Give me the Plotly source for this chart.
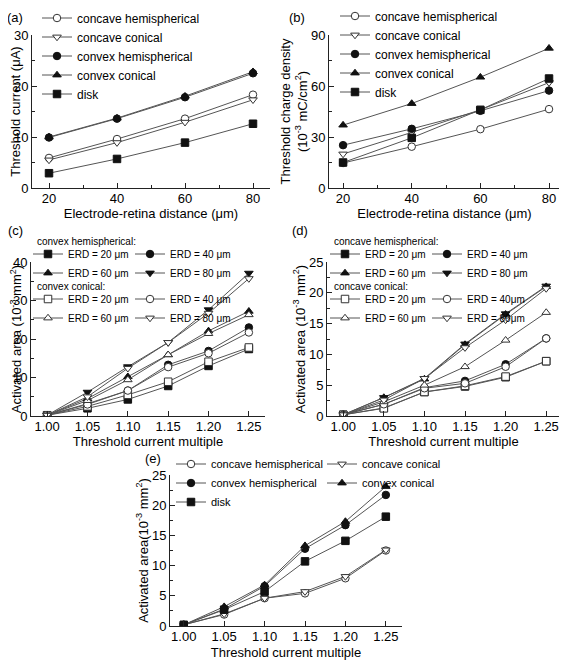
import plotly.graph_objects as go

# ---------------- data ----------------
erd = [20, 40, 60, 80]
multiple = [1.00, 1.05, 1.10, 1.15, 1.20, 1.25]

# (a) threshold current (uA)
a_concave_hemi = [5.9, 9.6, 13.6, 18.3]
a_concave_con = [5.5, 8.9, 12.9, 17.3]
a_convex_hemi = [9.9, 13.6, 17.8, 22.5]
a_convex_con = [10.0, 13.7, 18.0, 22.8]
a_disk = [2.9, 5.7, 8.9, 12.6]

# (b) threshold charge density (1e-3 mC/cm2)
b_concave_hemi = [14.7, 24.3, 34.6, 46.4]
b_concave_con = [20.0, 32.7, 46.0, 62.0]
b_convex_hemi = [25.2, 34.8, 45.4, 57.3]
b_convex_con = [37.0, 49.7, 65.2, 82.2]
b_disk = [15.0, 29.5, 46.0, 64.4]

# (c) activated area, convex electrodes (1e-3 mm2)
c_hemi_20 = [0.2, 2.0, 4.3, 7.8, 13.0, 17.4]
c_hemi_40 = [0.2, 3.2, 6.6, 13.3, 16.9, 23.0]
c_hemi_60 = [0.2, 4.5, 10.2, 15.9, 22.1, 27.2]
c_hemi_80 = [0.2, 6.2, 12.8, 19.1, 27.6, 37.1]
c_con_20 = [0.2, 2.5, 5.5, 8.9, 14.1, 17.8]
c_con_40 = [0.2, 3.0, 6.6, 12.7, 16.3, 21.7]
c_con_60 = [0.2, 4.0, 9.4, 15.9, 21.4, 26.3]
c_con_80 = [0.2, 5.0, 12.4, 19.1, 26.7, 35.7]

# (d) activated area, concave electrodes (1e-3 mm2)
d_hemi_20 = [0.2, 1.3, 3.9, 4.8, 6.3, 8.9]
d_hemi_40 = [0.2, 1.9, 4.6, 5.7, 8.4, 12.6]
d_hemi_60 = [0.2, 3.0, 6.0, 11.6, 16.5, 21.0]
d_hemi_80 = [0.2, 3.0, 6.1, 11.7, 16.6, 21.1]
d_con_20 = [0.2, 1.25, 3.9, 4.9, 6.4, 8.9]
d_con_40 = [0.2, 1.9, 4.5, 5.3, 8.0, 12.6]
d_con_60 = [0.2, 2.3, 5.0, 8.0, 12.3, 16.8]
d_con_80 = [0.2, 2.6, 6.1, 11.1, 15.6, 20.7]

# (e) activated area by electrode shape (1e-3 mm2)
e_concave_hemi = [0.2, 1.9, 4.6, 5.4, 7.9, 12.5]
e_concave_con = [0.2, 2.0, 4.6, 5.7, 8.2, 12.6]
e_convex_hemi = [0.2, 2.8, 6.6, 12.8, 16.7, 21.7]
e_convex_con = [0.2, 3.2, 6.8, 13.3, 17.3, 23.1]
e_disk = [0.2, 2.7, 5.7, 10.7, 14.1, 18.1]

shape_names = ["concave hemispherical", "concave conical", "convex hemispherical",
               "convex conical", "disk"]
erd_names = ["ERD = 20 \u03bcm", "ERD = 40 \u03bcm", "ERD = 60 \u03bcm", "ERD = 80 \u03bcm"]
erd_names_d2 = ["ERD = 20 \u03bcm", "ERD = 40\u03bcm", "ERD = 60 \u03bcm", "ERD = 80\u03bcm"]
group_titles = ["convex hemispherical:", "convex conical:",
                "concave hemispherical:", "concave conical:"]
panel_labels = ["(a)", "(b)", "(c)", "(d)", "(e)"]

# ---------------- styling ----------------
# The page body has an 8px default margin, so the figure is drawn 8px in
# from the top-left corner; positions below are given in window pixels.
OFF = 8
W, H = 567 - OFF, 660 - OFF
FONT = "Arial, 'Liberation Sans', Helvetica, sans-serif"
LINE = "#555555"
DARK = "#111111"
OPEN_EDGE = "#333333"

shape_marker = {
    "concave hemispherical": ("circle", False),
    "concave conical": ("triangle-down", False),
    "convex hemispherical": ("circle", True),
    "convex conical": ("triangle-up", True),
    "disk": ("square", True),
}
erd_symbols = ["square", "circle", "triangle-up", "triangle-down"]

fig = go.Figure()


def add(x, y, name, symbol, filled, xa, ya, legend):
    if filled:
        marker = dict(symbol=symbol, size=7.5, color=DARK, line=dict(color=DARK, width=1))
    else:
        marker = dict(symbol=symbol, size=7.5, color="white",
                      line=dict(color=OPEN_EDGE, width=1))
    fig.add_trace(go.Scatter(x=x, y=y, name=name, mode="lines+markers",
                             line=dict(color=LINE, width=1), marker=marker,
                             xaxis=xa, yaxis=ya, legend=legend))


# (a)
for name, vals in zip(shape_names, [a_concave_hemi, a_concave_con, a_convex_hemi, a_convex_con, a_disk]):
    s, f = shape_marker[name]
    add(erd, vals, name, s, f, "x", "y", "legend")
# (b)
for name, vals in zip(shape_names, [b_concave_hemi, b_concave_con, b_convex_hemi, b_convex_con, b_disk]):
    s, f = shape_marker[name]
    add(erd, vals, name, s, f, "x2", "y2", "legend2")
# (c)  columns: ERD20/60 left, ERD40/80 right
for i, (name, sym, vals) in enumerate(zip(erd_names, erd_symbols, [c_hemi_20, c_hemi_40, c_hemi_60, c_hemi_80])):
    add(multiple, vals, name, sym, True, "x3", "y3", "legend3" if i % 2 == 0 else "legend4")
for i, (name, sym, vals) in enumerate(zip(erd_names, erd_symbols, [c_con_20, c_con_40, c_con_60, c_con_80])):
    add(multiple, vals, name, sym, False, "x3", "y3", "legend5" if i % 2 == 0 else "legend6")
# (d)
for i, (name, sym, vals) in enumerate(zip(erd_names, erd_symbols, [d_hemi_20, d_hemi_40, d_hemi_60, d_hemi_80])):
    add(multiple, vals, name, sym, True, "x4", "y4", "legend7" if i % 2 == 0 else "legend8")
for i, (name, sym, vals) in enumerate(zip(erd_names_d2, erd_symbols, [d_con_20, d_con_40, d_con_60, d_con_80])):
    add(multiple, vals, name, sym, False, "x4", "y4", "legend9" if i % 2 == 0 else "legend10")
# (e)
for i, (name, vals) in enumerate(zip(shape_names, [e_concave_hemi, e_concave_con, e_convex_hemi, e_convex_con, e_disk])):
    s, f = shape_marker[name]
    add(multiple, vals, name, s, f, "x5", "y5", "legend11" if i % 2 == 0 else "legend12")


def px_x(p):
    return (p - OFF) / W


def px_y(p):
    return 1 - (p - OFF) / H


def axis(domain, rng, dtick, minor, title, anchor, fmt=None, is_x=False, standoff=0):
    d = dict(domain=domain, range=rng, showline=True, linecolor="#222", linewidth=1,
             ticks="inside", ticklen=5, tickcolor="#222", tickwidth=1,
             showgrid=False, zeroline=False, mirror=False, anchor=anchor, automargin=False,
             tickfont=dict(size=13, color="black", family=FONT),
             title=dict(text=title, font=dict(size=13, color="black", family=FONT), standoff=standoff),
             minor=dict(ticks="inside", ticklen=3, tickcolor="#222", dtick=minor, showgrid=False),
             dtick=dtick, tick0=0)
    if is_x:
        d["ticklabelstandoff"] = -2
    if fmt:
        d["tickformat"] = fmt
    return d


yd_top = [px_y(188), px_y(35)]
yd_mid = [px_y(416), px_y(262)]
yd_bot = [px_y(626), px_y(475)]

fig.update_layout(
    template="none",
    width=W, height=H, margin=dict(l=0, r=0, t=0, b=0, autoexpand=False),
    paper_bgcolor="white", plot_bgcolor="white",
    font=dict(family=FONT, color="black"),
    xaxis=axis([px_x(32), px_x(270)], [15, 85], 20, 10, "Electrode-retina distance (\u03bcm)", "y", is_x=True),
    yaxis=axis(yd_top, [0, 30], 10, 5, "Threshold current (\u03bcA)", "x"),
    xaxis2=axis([px_x(329), px_x(560)], [15.9, 83.2], 20, 10, "Electrode-retina distance (\u03bcm)", "y2", is_x=True),
    yaxis2=axis(yd_top, [0, 90], 30, 15,
                "Threshold charge density<br>(10<sup>-3</sup> mC/cm<sup>2</sup>)", "x2"),
    xaxis3=axis([px_x(31), px_x(265)], [0.98, 1.27], 0.05, 0.05, "Threshold current multiple", "y3", ".2f", True),
    yaxis3=axis(yd_mid, [0, 40], 10, 5, "Activated area (10<sup>-3</sup> mm<sup>2</sup>)", "x3"),
    xaxis4=axis([px_x(327), px_x(560)], [0.98, 1.267], 0.05, 0.05, "Threshold current multiple", "y4", ".2f", True),
    yaxis4=axis(yd_mid, [0, 25], 5, 2.5, "Activated area (10<sup>-3</sup> mm<sup>2</sup>)", "x4"),
    xaxis5=axis([px_x(170), px_x(402)], [0.983, 1.27], 0.05, 0.05, "Threshold current multiple", "y5", ".2f",
                True, standoff=5),
    yaxis5=axis(yd_bot, [0, 25], 5, 2.5, "Activated area(10<sup>-3</sup> mm<sup>2</sup>)", "x5"),
)


def vleg(lx, cy, size):
    # lx: x of swatch line start, cy: centre of first row (window pixels)
    return dict(x=px_x(lx - 5), y=px_y(cy - 14.5), xanchor="left", yanchor="top",
                orientation="v", bgcolor="rgba(0,0,0,0)", borderwidth=0,
                tracegroupgap=0, itemwidth=30, font=dict(size=size, family=FONT, color="black"))


fig.update_layout(
    legend=vleg(42, 18, 12),
    legend2=vleg(340, 16, 12),
    legend3=vleg(33, 254, 10),
    legend4=vleg(135, 254, 10),
    legend5=vleg(33, 299, 10),
    legend6=vleg(135, 299, 10),
    legend7=vleg(330, 254, 10),
    legend8=vleg(432, 254, 10),
    legend9=vleg(330, 299, 10),
    legend10=vleg(432, 299, 10),
    legend11=vleg(176, 464, 11),
    legend12=vleg(327, 464, 11),
)

for label, x, y, anc in zip(panel_labels, [15, 297, 15, 300, 153], [8, 8, 230, 230, 458],
                            ["top", "top", "middle", "middle", "middle"]):
    fig.add_annotation(text=label, x=px_x(x), y=px_y(y), xref="paper", yref="paper",
                       xanchor="center", yanchor=anc, showarrow=False,
                       font=dict(size=13, family=FONT, color="black"))

for title, x, y in zip(group_titles, [35, 35, 332, 332], [241, 286, 241, 286]):
    fig.add_annotation(text=title, x=px_x(x), y=px_y(y), xref="paper", yref="paper",
                       xanchor="left", yanchor="middle", showarrow=False,
                       font=dict(size=10, family=FONT, color="black"))

fig.write_html("out.html")
